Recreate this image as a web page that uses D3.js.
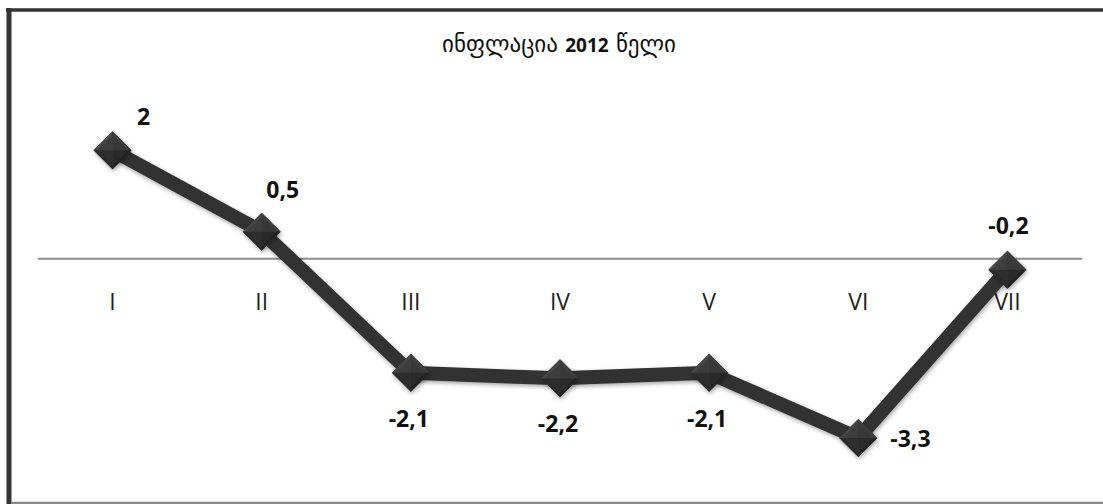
<!DOCTYPE html>
<html>
<head>
<meta charset="utf-8">
<script src="https://cdn.jsdelivr.net/npm/d3@7"></script>
<style>
  html, body { margin: 0; padding: 0; background: #fff; }
  svg { display: block; }
</style>
</head>
<body>
<svg id="chart" width="1103" height="504"></svg>
<script>
const categories = ["I", "II", "III", "IV", "V", "VI", "VII"];
const values = [2, 0.5, -2.1, -2.2, -2.1, -3.3, -0.2];
const valueLabels = ["2", "0,5", "-2,1", "-2,2", "-2,1", "-3,3", "-0,2"];
const labelPlacement = ["aboveRight", "aboveRight2", "below", "below", "below", "right", "above"];
const titleParts = [
  { text: "ინფლაცია ", bold: false },
  { text: "2012", bold: true },
  { text: " წელი", bold: false }
];

const W = 1103, H = 504;
const svg = d3.select("#chart");

// frame
svg.append("rect").attr("x", 0).attr("y", 0).attr("width", W).attr("height", H).attr("fill", "#fff");
svg.append("line").attr("x1", 9).attr("x2", 9).attr("y1", 8).attr("y2", 504)
  .attr("stroke", "#333").attr("stroke-width", 5);
svg.append("line").attr("x1", 6).attr("x2", W).attr("y1", 10).attr("y2", 10)
  .attr("stroke", "#333").attr("stroke-width", 3.5);
svg.append("line").attr("x1", 11).attr("x2", W).attr("y1", 503).attr("y2", 503)
  .attr("stroke", "#8a8a8a").attr("stroke-width", 2.5);

const x = d3.scaleBand().domain(categories).range([38, 1082]);
const y = d3.scaleLinear().domain([-4, 3]).range([476, 96]);
const cx = c => x(c) + x.bandwidth() / 2;

// defs
const defs = svg.append("defs");
const sh = defs.append("filter").attr("id", "shadow").attr("x", "-20%").attr("y", "-20%").attr("width", "140%").attr("height", "140%");
sh.append("feGaussianBlur").attr("in", "SourceAlpha").attr("stdDeviation", 2);
sh.append("feOffset").attr("dx", 1).attr("dy", 2).attr("result", "b");
sh.append("feComponentTransfer").append("feFuncA").attr("type", "linear").attr("slope", 0.35);
const m = sh.append("feMerge");
m.append("feMergeNode");
m.append("feMergeNode").attr("in", "SourceGraphic");

// title
const title = svg.append("text").attr("x", 559).attr("y", 52)
  .attr("text-anchor", "middle").attr("fill", "#111");
titleParts.forEach(p => {
  title.append("tspan").text(p.text)
    .attr("font-weight", p.bold ? "bold" : "normal")
    .attr("font-size", p.bold ? 19 : 23)
    .attr("font-family", p.bold ? "'Open Sans', 'Liberation Sans', sans-serif" : "'DejaVu Sans', sans-serif");
});

// zero axis line
svg.append("line").attr("x1", x.range()[0]).attr("x2", x.range()[1])
  .attr("y1", y(0)).attr("y2", y(0)).attr("stroke", "#8c8c8c").attr("stroke-width", 2);

// category labels
const xAxis = d3.axisBottom(x).tickSize(0).tickPadding(0);
const gx = svg.append("g").attr("transform", `translate(0,${y(0) + 51})`).call(xAxis);
gx.select(".domain").remove();
gx.selectAll("text").attr("font-size", 23).attr("fill", "#222")
  .attr("font-family", "'Open Sans', 'Liberation Sans', sans-serif")
  .attr("dy", "0");

// line
const data = categories.map((c, i) => ({ c, v: values[i], lab: valueLabels[i], pl: labelPlacement[i] }));
const line = d3.line().x(d => cx(d.c)).y(d => y(d.v));
svg.append("path").datum(data).attr("d", line)
  .attr("fill", "none").attr("stroke", "#303030").attr("stroke-width", 14)
  .attr("stroke-linejoin", "round").attr("filter", "url(#shadow)");

// markers: bevelled diamond
const r = 19;
const mk = svg.append("g").selectAll("g").data(data).join("g")
  .attr("transform", d => `translate(${cx(d.c)},${y(d.v)})`)
  .attr("filter", "url(#shadow)");
const faces = [
  { pts: [[0, -r], [r, 0], [0, 0]], fill: "#3e3e3e" },
  { pts: [[r, 0], [0, r], [0, 0]], fill: "#242424" },
  { pts: [[0, r], [-r, 0], [0, 0]], fill: "#2a2a2a" },
  { pts: [[-r, 0], [0, -r], [0, 0]], fill: "#474747" }
];
mk.append("path").attr("d", `M0,${-r}L${r},0L0,${r}L${-r},0Z`).attr("fill", "#333");
faces.forEach(f => {
  mk.append("path").attr("d", "M" + f.pts.map(p => p.join(",")).join("L") + "Z").attr("fill", f.fill);
});
mk.append("path").attr("d", `M0,${-r + 4}L${r - 4},0L0,${r - 4}L${-r + 4},0Z`)
  .attr("fill", "#333").attr("opacity", 0.5);

// value labels
const off = {
  aboveRight: [31, -25, "middle"],
  aboveRight2: [21, -34, "middle"],
  above: [1, -36, "middle"],
  below: [-2, 54, "middle"],
  right: [32, 9, "start"]
};
svg.append("g").selectAll("text").data(data).join("text")
  .attr("x", d => cx(d.c) + off[d.pl][0])
  .attr("y", d => y(d.v) + off[d.pl][1])
  .attr("text-anchor", d => off[d.pl][2])
  .attr("font-size", 23).attr("font-weight", "bold").attr("fill", "#111")
  .attr("font-family", "'Open Sans', 'Liberation Sans', sans-serif")
  .text(d => d.lab);
</script>
</body>
</html>
